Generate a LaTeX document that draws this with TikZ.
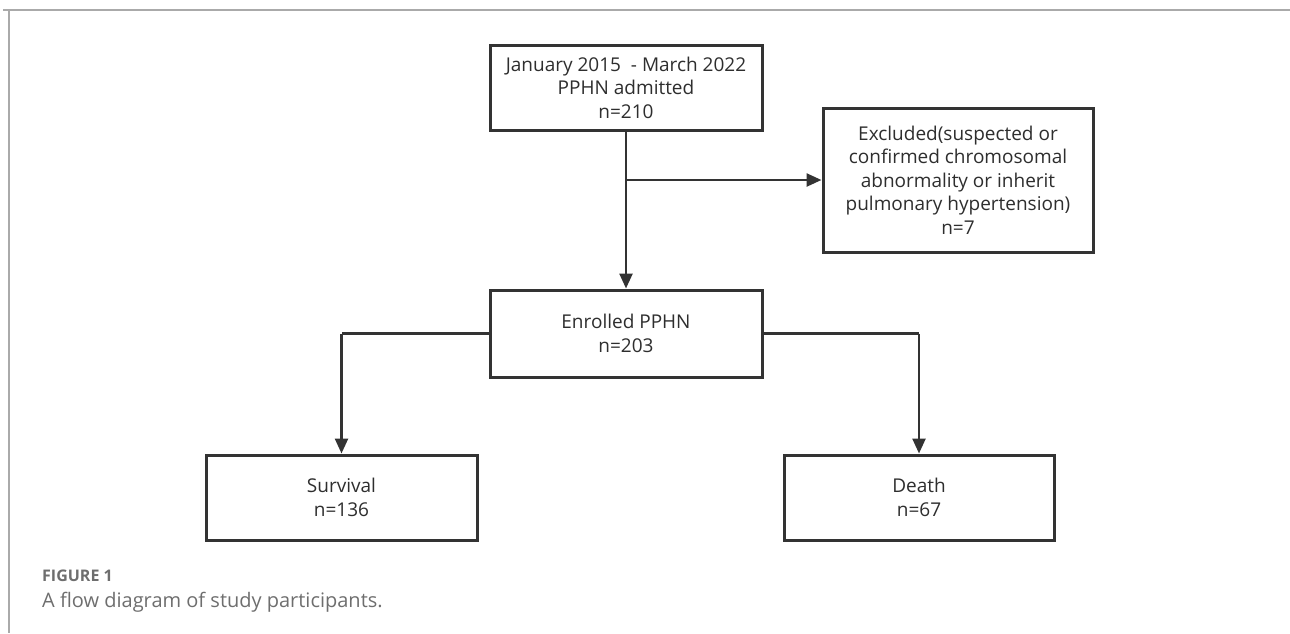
\documentclass[tikz,border=0pt]{standalone}
\usepackage{fontspec}
\setmainfont{Open Sans}
\usetikzlibrary{arrows.meta}
\definecolor{ink}{HTML}{333333}
\definecolor{frame}{HTML}{AAAAAA}
\definecolor{capgray}{HTML}{6E6E6E}
\tikzset{
  box/.style={draw=ink, line width=3pt, fill=white, align=center, font=\fontsize{19}{23.5}\selectfont, text=ink!90!black, inner sep=0pt},
  conn/.style={draw=ink, line width=2.5pt},
  arr/.style={conn, -{Triangle[length=15pt,width=13pt]}},
}
\begin{document}
\begin{tikzpicture}[x=1pt,y=-1pt]
\useasboundingbox (0,0) rectangle (1290,633);
\draw[frame, line width=1.5pt] (3,10) -- (1290,10);
\draw[frame, line width=1.5pt] (9,10) -- (9,633);
% boxes
\node[box, minimum width=272pt, minimum height=85pt] (adm) at (626,87.5) {January 2015\ \ - March 2022\\PPHN admitted\\n=210};
\node[box, minimum width=270pt, minimum height=144pt] (exc) at (958,180) {Excluded(suspected or\\confirmed chromosomal\\abnormality or inherit\\pulmonary hypertension)\\n=7};
\node[box, minimum width=272pt, minimum height=87pt] (enr) at (626,333.5) {Enrolled PPHN\\n=203};
\node[box, minimum width=271pt, minimum height=85pt] (sur) at (341.5,497.5) {Survival\\n=136};
\node[box, minimum width=270pt, minimum height=85pt] (dea) at (919,497.5) {Death\\n=67};
% connectors
\coordinate (br) at (adm.south |- exc.west);
\draw[arr] (adm.south) -- (enr.north);
\draw[arr] (br) -- (exc.west);
\coordinate (sl) at (sur.north |- enr.west);
\coordinate (dr) at (dea.north |- enr.east);
\draw[conn] (enr.west) -- (sl);
\draw[arr] (sl) -- (sur.north);
\draw[conn] (enr.east) -- (dr);
\draw[arr] (dr) -- (dea.north);
% caption
\node[anchor=base west, inner sep=0pt, text=capgray, font=\fontsize{16}{18}\selectfont\bfseries] (fig) at (42,581) {FIGURE 1};
\node[anchor=base west, inner sep=0pt, text=capgray, font=\fontsize{20}{22}\selectfont] (cap) at (42,607) {A flow diagram of study participants.};
\end{tikzpicture}
\end{document}
